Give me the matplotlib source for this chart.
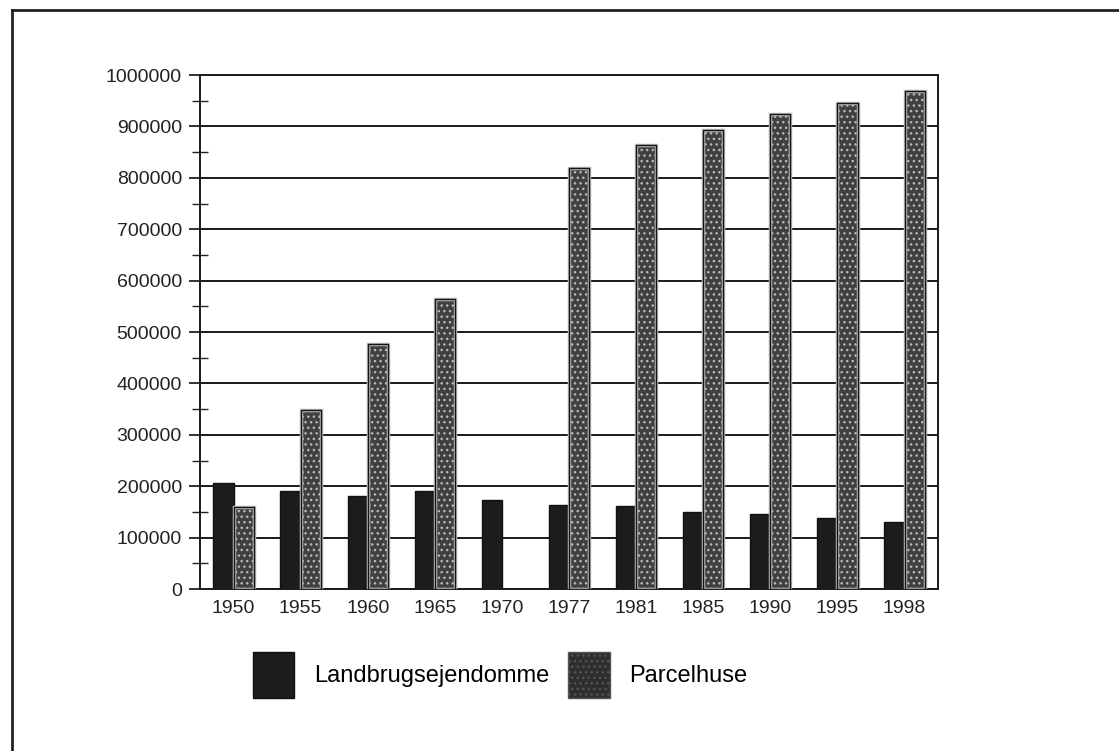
import matplotlib
matplotlib.use("Agg")
import matplotlib.pyplot as plt
import numpy as np
from matplotlib.lines import Line2D
from matplotlib.patches import Patch
from matplotlib.ticker import MultipleLocator, FuncFormatter

matplotlib.rcParams["font.family"] = ["Liberation Sans", "DejaVu Sans"]
matplotlib.rcParams["hatch.linewidth"] = 1.0

# data (1970: no Parcelhuse bar)
years = ["1950", "1955", "1960", "1965", "1970", "1977", "1981", "1985", "1990", "1995", "1998"]
landbrug = [207000, 190000, 180000, 190000, 173000, 163000, 162000, 150000, 145000, 138000, 130000]
parcel = [159000, 348000, 477000, 564000, np.nan, 819000, 864000, 893000, 925000, 945000, 969000]

fig = plt.figure(figsize=(11.19, 7.51), dpi=100)
ax = fig.add_axes([0.1787, 0.2157, 0.6596, 0.6844])

x = np.arange(len(years))
w = 0.3

ax.bar(x - w / 2, landbrug, width=w, color="#1c1c1c", edgecolor="#111111", linewidth=1.0, zorder=3)
ax.bar(x + w / 2, parcel, width=w, color="#404040", edgecolor="#b8b8b8", linewidth=2.5,
       hatch="...", zorder=3)
ax.bar(x + w / 2, parcel, width=w, fill=False, edgecolor="#151515", linewidth=1.0, zorder=4)

ax.set_xlim(-0.5, len(years) - 0.5)
ax.set_ylim(0, 1000000)
ax.set_xticks(x)
ax.set_xticklabels(years)
ax.yaxis.set_major_locator(MultipleLocator(100000))
ax.yaxis.set_minor_locator(MultipleLocator(50000))
ax.yaxis.set_major_formatter(FuncFormatter(lambda v, p: f"{int(round(v))}"))
ax.tick_params(axis="x", length=0, pad=8, labelsize=14, colors="#222222")
ax.tick_params(axis="y", which="major", direction="out", length=8, width=1.3,
               pad=5, labelsize=14, colors="#222222")
ax.tick_params(axis="y", which="minor", direction="inout", length=11, width=1.0,
               colors="#222222")
ax.grid(axis="y", which="major", color="#1a1a1a", linewidth=1.4, zorder=1)
for s in ax.spines.values():
    s.set_color("#1a1a1a")
    s.set_linewidth(1.4)

# outer frame of the scanned page
fig.add_artist(Line2D([0.0107, 1.0], [0.9867, 0.9867], color="#222222", linewidth=2.0))
fig.add_artist(Line2D([0.0107, 0.0107], [0.0, 0.9867], color="#222222", linewidth=2.0))

handles = [
    Patch(facecolor="#1c1c1c", edgecolor="#111111"),
    Patch(facecolor="#2e2e2e", edgecolor="#555555", hatch="..."),
]
fig.legend(handles, ["Landbrugsejendomme", "Parcelhuse"], loc="center",
           bbox_to_anchor=(0.447, 0.101), ncol=2, frameon=False, fontsize=17,
           handlelength=1.75, handleheight=2.6, handletextpad=0.85, columnspacing=0.8)

fig.savefig("out.png", dpi=100, facecolor="white")
